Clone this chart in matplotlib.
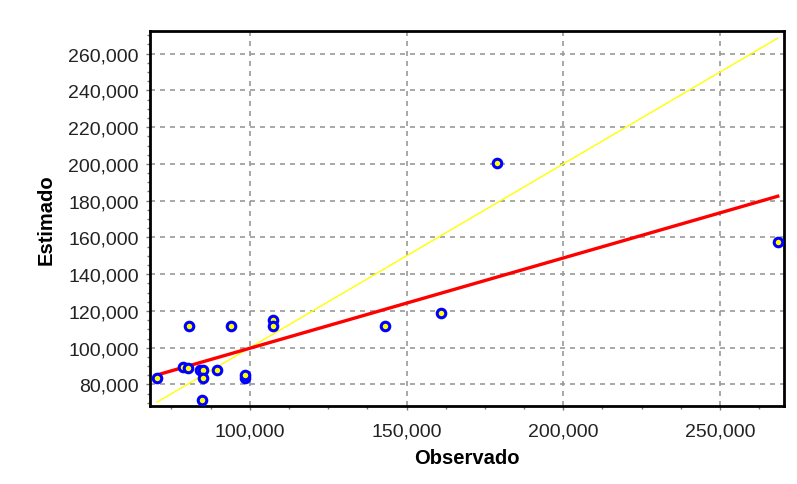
import numpy as np
import matplotlib
matplotlib.use("Agg")
import matplotlib.pyplot as plt
from matplotlib.ticker import FuncFormatter, MultipleLocator

plt.rcParams['font.family'] = ['Liberation Sans', 'DejaVu Sans']

observado = [70400, 80500, 78800, 80200, 84000, 85000, 84900, 84700, 89600,
             94000, 98300, 98300, 107500, 107500, 143000, 160900, 178900, 268400]
estimado = [83800, 112000, 89400, 89000, 88100, 88100, 83800, 71700, 88100,
            112000, 83800, 85300, 115300, 111700, 111700, 119100, 200400, 157300]

x = np.array(observado, dtype=float)
y = np.array(estimado, dtype=float)

fig = plt.figure(figsize=(7.97, 4.85), dpi=100)
ax = fig.add_axes([150/797, 1-407/485, (784-150)/797, (407-32)/485])

xs = np.array([x.min(), x.max()])
# identity line
ax.plot(xs, xs, color='#ffff00', lw=1.0, zorder=2)
# regression line
b, a = np.polyfit(x, y, 1)
ax.plot(xs, a + b*xs, color='#ff0000', lw=2.4, zorder=3)

ax.scatter(x, y, s=38, facecolor='#ffff00', edgecolor='#0000ff', linewidth=2.2, zorder=4)

ax.set_xlim(68150, 270400)
ax.set_ylim(68300, 272300)

ax.xaxis.set_major_locator(MultipleLocator(50000))
ax.xaxis.set_minor_locator(MultipleLocator(12500))
ax.yaxis.set_major_locator(MultipleLocator(20000))
ax.yaxis.set_minor_locator(MultipleLocator(5000))
fmt = FuncFormatter(lambda v, p: f"{int(round(v)):,}")
ax.xaxis.set_major_formatter(fmt)
ax.yaxis.set_major_formatter(fmt)

ax.grid(True, which='major', color='#999999', linestyle=(0, (3, 3)), linewidth=1.2)
ax.set_axisbelow(True)

for s in ax.spines.values():
    s.set_linewidth(2.0)
    s.set_color('black')

ax.tick_params(axis='both', which='major', labelsize=14, length=3, width=1, color='#777777', labelcolor='#222222')
ax.tick_params(axis='x', which='major', pad=9)
ax.tick_params(axis='y', which='major', pad=5)
ax.tick_params(axis='both', which='minor', length=2, width=1, color='#777777')

ax.set_xlabel('Observado', fontsize=14.5, fontweight='bold', labelpad=6)
ax.set_ylabel('Estimado', fontsize=14.5, fontweight='bold', labelpad=9)

fig.savefig('out.png', dpi=100)
